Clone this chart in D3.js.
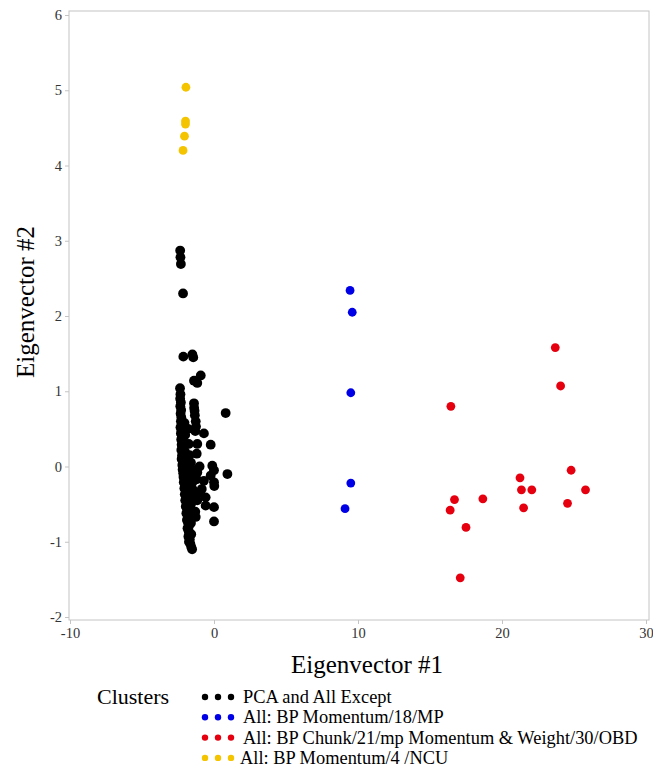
<!DOCTYPE html>
<html>
<head>
<meta charset="utf-8">
<script src="https://cdn.jsdelivr.net/npm/d3@7"></script>
<style>
  body { margin: 0; background: #fff; }
  svg text { font-family: "Liberation Serif", "Times New Roman", serif; }
</style>
</head>
<body>
<div id="chart-area"></div>
<script>
// cluster names + colours
var clusterNames = ["PCA and All Except", "All: BP Momentum/18/MP",
    "All: BP Chunk/21/mp Momentum & Weight/30/OBD", "All: BP Momentum/4 /NCU"];
var clusterColors = ["#000000", "#0000e6", "#e6000f", "#f5c400"];

var xTicks = [-10, 0, 10, 20, 30];
var yTicks = [-2, -1, 0, 1, 2, 3, 4, 5, 6];

// black cluster (eigenvector #1, eigenvector #2)
var blackPts = [
    [-2.35, 2.87], [-2.33, 2.78], [-2.3, 2.69], [-2.15, 2.3], [-2.13, 1.46], [-1.5, 1.49], [-1.44, 1.45],
    [-0.92, 1.21], [-1.39, 1.14], [-1.16, 1.11], [-1.39, 0.84], [-1.38, 0.78], [-1.35, 0.74], [-1.33, 0.68],
    [0.81, 0.71], [-1.27, 0.6], [-1.25, 0.53], [-1.3, 0.47], [-0.7, 0.44], [-1.16, 0.3], [-0.23, 0.29],
    [-1.2, 0.17], [-0.12, 0.01], [0, -0.05], [-1.16, -0.08], [0.93, -0.1], [-0.23, -0.12], [-0.7, -0.19],
    [0, -0.21], [-1.2, -0.17], [-1.5, -0.21], [0.02, -0.26], [-1.16, -0.45], [-0.58, -0.41], [-0.58, -0.52],
    [0, -0.54], [-1.27, -0.67], [0, -0.73], [-1.5, -0.3], [-1.4, -0.38], [-1.45, -0.05], [-1.0, 0.0],
    [-0.85, -0.3], [-1.3, -0.6], [-1.05, -0.35],
    // dense column
    [-2.36, 1.04], [-2.33, 0.96], [-2.35, 0.9], [-2.3, 0.85], [-2.34, 0.8], [-2.28, 0.75], [-2.32, 0.7],
    [-2.27, 0.65], [-2.3, 0.6], [-2.25, 0.56], [-2.33, 0.52], [-2.26, 0.48], [-2.3, 0.44], [-2.22, 0.4],
    [-2.28, 0.36], [-2.2, 0.33], [-2.25, 0.29], [-2.18, 0.25], [-2.27, 0.22], [-2.15, 0.19], [-2.22, 0.15],
    [-2.12, 0.12], [-2.25, 0.1], [-2.16, 0.07], [-2.08, 0.04], [-2.2, 0.02], [-2.1, -0.01], [-2.18, -0.04],
    [-2.05, -0.06], [-2.14, -0.09], [-2.0, -0.11], [-2.12, -0.14], [-2.04, -0.17], [-1.95, -0.19], [-2.1, -0.21],
    [-2.0, -0.24], [-1.92, -0.27], [-2.06, -0.29], [-1.97, -0.32], [-1.88, -0.35], [-2.03, -0.37], [-1.94, -0.4],
    [-1.85, -0.43], [-2.0, -0.45], [-1.9, -0.48], [-1.82, -0.51], [-1.96, -0.53], [-1.87, -0.56], [-1.8, -0.6],
    [-1.92, -0.62], [-1.84, -0.65], [-1.77, -0.69], [-1.88, -0.71], [-1.8, -0.75], [-1.74, -0.79], [-1.84, -0.82],
    [-1.76, -0.86], [-1.7, -0.9], [-1.78, -0.93], [-1.68, -0.97], [-1.74, -1.0], [-1.64, -1.03], [-1.58, -1.07],
    [-1.52, -1.1],
    [-2.05, 0.58], [-2.1, 0.5], [-2.0, 0.42], [-1.95, 0.3], [-2.02, 0.2], [-1.9, 0.1], [-1.85, 0.0],
    [-1.78, -0.1], [-1.75, -0.2], [-1.7, -0.3], [-1.65, -0.4], [-1.6, -0.5], [-1.62, -0.6], [-1.6, -0.75],
    [-1.58, -0.9], [-1.8, 0.5], [-1.75, 0.3], [-1.7, 0.15], [-1.6, 0.05], [-1.55, -0.15], [-1.5, -0.45]
];
var bluePts = [[9.45, 2.34], [9.6, 2.05], [9.5, 0.98], [9.5, -0.22], [9.1, -0.56]];
var redPts = [
    [23.7, 1.58], [24.07, 1.07], [16.45, 0.8], [24.8, -0.05], [21.25, -0.15], [21.35, -0.31], [22.07, -0.31],
    [25.8, -0.31], [16.7, -0.44], [18.67, -0.43], [24.55, -0.49], [21.5, -0.55], [16.4, -0.58], [17.5, -0.81],
    [17.1, -1.48]
];
var yellowPts = [[-1.95, 5.04], [-1.98, 4.59], [-1.98, 4.55], [-2.05, 4.39], [-2.15, 4.2]];

var allPts = [blackPts, bluePts, redPts, yellowPts];

var width = 653, height = 771;
var frame = {left: 69, right: 649, top: 11, bottom: 620};
var serif = "'Liberation Serif', 'Times New Roman', serif";

var svg = d3.select("#chart-area").append("svg")
    .attr("width", width)
    .attr("height", height);

var x = d3.scaleLinear().domain([-10, 30]).range([70, 646]);
var y = d3.scaleLinear().domain([-2, 6]).range([617, 15]);

// frame
svg.append("rect")
    .attr("x", frame.left).attr("y", frame.top)
    .attr("width", frame.right - frame.left)
    .attr("height", frame.bottom - frame.top)
    .attr("fill", "none")
    .attr("stroke", "#c4c4c4");

var xAxis = svg.append("g")
    .attr("transform", "translate(0," + frame.bottom + ")")
    .call(d3.axisBottom(x).tickValues(xTicks).tickSize(4).tickPadding(4)
        .tickFormat(function(d) { return String(d); }));
var yAxis = svg.append("g")
    .attr("transform", "translate(" + frame.left + ",0)")
    .call(d3.axisLeft(y).tickValues(yTicks).tickSize(4).tickPadding(3)
        .tickFormat(function(d) { return String(d); }));

[xAxis, yAxis].forEach(function(g) {
    g.attr("font-family", serif).attr("font-size", 14.5);
    g.select(".domain").remove();
    g.selectAll("line").attr("stroke", "#c4c4c4");
    g.selectAll("text").attr("fill", "#333");
});

// axis titles
svg.append("text")
    .attr("x", 367).attr("y", 673)
    .attr("text-anchor", "middle")
    .attr("font-family", serif)
    .attr("font-size", 25)
    .text("Eigenvector #1");
svg.append("text")
    .attr("transform", "translate(34,302) rotate(-90)")
    .attr("text-anchor", "middle")
    .attr("font-family", serif)
    .attr("font-size", 25)
    .text("Eigenvector #2");

// points, black first so colours sit on top
allPts.forEach(function(pts, k) {
    svg.append("g").selectAll("circle")
        .data(pts)
        .join("circle")
        .attr("cx", function(d) { return x(d[0]); })
        .attr("cy", function(d) { return y(d[1]); })
        .attr("r", k == 0 ? 4.9 : 4.4)
        .attr("fill", clusterColors[k]);
});

// legend
svg.append("text")
    .attr("x", 97).attr("y", 704)
    .attr("font-family", serif)
    .attr("font-size", 22)
    .text("Clusters");

var legend = svg.append("g").selectAll("g")
    .data(clusterNames)
    .join("g")
    .attr("transform", function(d, i) { return "translate(0," + (697 + i * 20.3) + ")"; });

legend.each(function(d, i) {
    d3.select(this).selectAll("circle")
        .data([205, 218, 231])
        .join("circle")
        .attr("cx", function(c) { return c; })
        .attr("cy", 0)
        .attr("r", 3.2)
        .attr("fill", clusterColors[i]);
});
legend.append("text")
    .attr("x", function(d, i) { return i == 3 ? 240 : 243; })
    .attr("y", 6)
    .attr("font-family", serif)
    .attr("font-size", 18.4)
    .text(function(d) { return d; });
</script>
</body>
</html>
